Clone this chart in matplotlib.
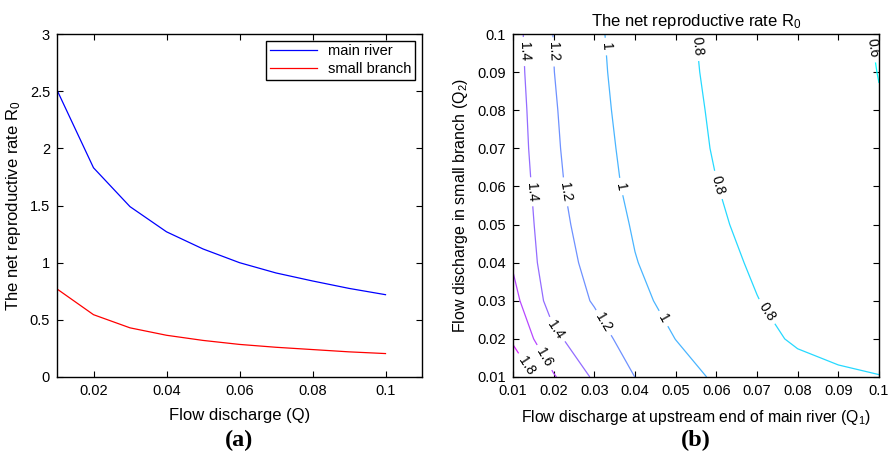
import matplotlib
matplotlib.use("Agg")
import matplotlib.pyplot as plt
import numpy as np

plt.rcParams['font.family'] = ['Liberation Sans', 'DejaVu Sans']
plt.rcParams['xtick.direction'] = 'in'
plt.rcParams['ytick.direction'] = 'in'

# ---- panel (a) data ----
q = [0.01, 0.02, 0.03, 0.04, 0.05, 0.06, 0.07, 0.08, 0.09, 0.10]
r0_main = [2.51, 1.83, 1.49, 1.27, 1.12, 1.00, 0.91, 0.84, 0.775, 0.72]
r0_branch = [0.77, 0.545, 0.43, 0.365, 0.32, 0.285, 0.26, 0.24, 0.22, 0.205]

# ---- panel (b) data: R0 on grid, rows = Q2 (0.01..0.1), cols = Q1 (0.01..0.1) ----
q1 = [0.01, 0.02, 0.03, 0.04, 0.05, 0.06, 0.07, 0.08, 0.09, 0.10]
q2 = [0.01, 0.02, 0.03, 0.04, 0.05, 0.06, 0.07, 0.08, 0.09, 0.10]
r0_q2_001 = [1.995, 1.617, 1.373, 1.199, 1.080, 0.975, 0.920, 0.880, 0.837, 0.808]
r0_q2_002 = [1.765, 1.440, 1.270, 1.120, 0.998, 0.920, 0.860, 0.772, 0.720, 0.680]
r0_q2_003 = [1.659, 1.314, 1.186, 1.050, 0.940, 0.865, 0.804, 0.748, 0.700, 0.665]
r0_q2_004 = [1.581, 1.279, 1.150, 1.008, 0.908, 0.845, 0.779, 0.735, 0.695, 0.657]
r0_q2_005 = [1.556, 1.256, 1.123, 0.980, 0.895, 0.825, 0.749, 0.710, 0.673, 0.640]
r0_q2_006 = [1.530, 1.241, 1.084, 0.955, 0.875, 0.803, 0.743, 0.700, 0.660, 0.622]
r0_q2_007 = [1.508, 1.227, 1.068, 0.940, 0.865, 0.788, 0.735, 0.692, 0.651, 0.613]
r0_q2_008 = [1.495, 1.217, 1.051, 0.930, 0.855, 0.779, 0.727, 0.685, 0.644, 0.605]
r0_q2_009 = [1.480, 1.203, 1.038, 0.922, 0.845, 0.769, 0.720, 0.678, 0.637, 0.598]
r0_q2_010 = [1.469, 1.195, 1.030, 0.915, 0.835, 0.765, 0.715, 0.672, 0.632, 0.5925]
levels = [0.6, 0.8, 1.0, 1.2, 1.4, 1.6, 1.8]

Z = np.array([r0_q2_001, r0_q2_002, r0_q2_003, r0_q2_004, r0_q2_005,
              r0_q2_006, r0_q2_007, r0_q2_008, r0_q2_009, r0_q2_010])

fig = plt.figure(figsize=(8.91, 4.55), dpi=100)

# ---------- (a) ----------
axa = fig.add_axes([57/891, 1 - 377/455, 365/891, 343/455])
axa.plot(q, r0_main, color='#0000ff', lw=0.9, label='main river')
axa.plot(q, r0_branch, color='#ff0000', lw=0.9, label='small branch')
axa.set_xlim(0.01, 0.11)
axa.set_ylim(0, 3)
axa.set_xticks([0.02, 0.04, 0.06, 0.08, 0.1])
axa.set_xticklabels(['0.02', '0.04', '0.06', '0.08', '0.1'])
axa.set_yticks([0, 0.5, 1, 1.5, 2, 2.5, 3])
axa.set_yticklabels(['0', '0.5', '1', '1.5', '2', '2.5', '3'])
axa.tick_params(top=True, right=True, length=4, width=0.8, labelsize=10.5, pad=5)
for s in axa.spines.values():
    s.set_linewidth(1.0)
axa.set_xlabel('Flow discharge (Q)', fontsize=12, labelpad=7)
axa.set_ylabel(r'The net reproductive rate $\mathregular{R_0}$', fontsize=12, labelpad=5)
leg = axa.legend(loc='upper right', fontsize=10.5, frameon=True, fancybox=False,
                 edgecolor='black', framealpha=1, handlelength=3.2,
                 borderaxespad=0.45, borderpad=0.25, labelspacing=0.25)
leg.get_frame().set_linewidth(1.0)

# ---------- (b) ----------
axb = fig.add_axes([513/891, 1 - 377/455, 366/891, 343/455])
cs = axb.contour(q1, q2, Z, levels=levels, cmap='cool', vmin=0.59, vmax=2.0,
                 linewidths=0.9)
label_pos = [(0.0129, 0.0954), (0.0146, 0.0586), (0.0211, 0.0228),
             (0.0199, 0.0953), (0.0230, 0.0586), (0.0314, 0.0237),
             (0.0328, 0.0967), (0.0367, 0.0600), (0.0471, 0.0254),
             (0.0551, 0.0967), (0.0605, 0.0604), (0.0723, 0.0271),
             (0.0984, 0.0963), (0.0174, 0.0149), (0.0129, 0.0127)]
axb.clabel(cs, inline=True, fontsize=10, fmt=lambda v: f'{v:g}', manual=label_pos,
           colors='black')
axb.set_xlim(0.01, 0.1)
axb.set_ylim(0.01, 0.1)
ticks = [0.01, 0.02, 0.03, 0.04, 0.05, 0.06, 0.07, 0.08, 0.09, 0.1]
tlabels = ['0.01', '0.02', '0.03', '0.04', '0.05', '0.06', '0.07', '0.08', '0.09', '0.1']
axb.set_xticks(ticks)
axb.set_xticklabels(tlabels)
axb.set_yticks(ticks)
axb.set_yticklabels(tlabels)
axb.tick_params(top=True, right=True, length=4, width=0.8, labelsize=10.5, pad=5)
for s in axb.spines.values():
    s.set_linewidth(1.0)
axb.set_title(r'The net reproductive rate $\mathregular{R_0}$', fontsize=12, pad=6)
axb.set_xlabel(r'Flow discharge at upstream end of main river ($\mathregular{Q_1}$)',
               fontsize=11.3, labelpad=7)
axb.set_ylabel(r'Flow discharge in small branch ($\mathregular{Q_2}$)', fontsize=11.5,
               labelpad=5)

fig.text(239.5/891, 1 - 440/455, '(a)', ha='center', va='center',
         fontsize=17.5, fontweight='bold', family='Liberation Serif')
fig.text(696/891, 1 - 440/455, '(b)', ha='center', va='center',
         fontsize=17.5, fontweight='bold', family='Liberation Serif')

fig.savefig('out.png', dpi=100)
